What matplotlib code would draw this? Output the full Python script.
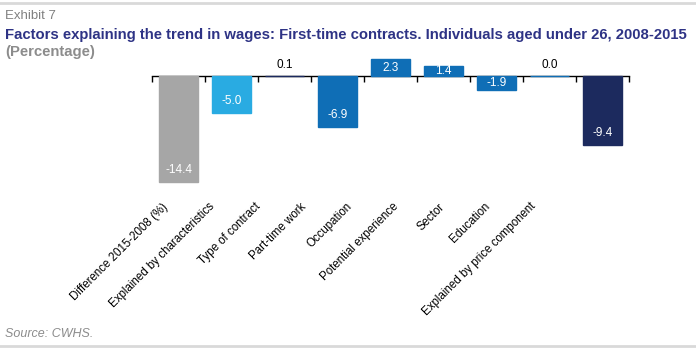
import matplotlib
matplotlib.use("Agg")
import numpy as np
from matplotlib import pyplot as plt
from matplotlib.transforms import ScaledTranslation

plt.rcParams['font.family'] = ['Liberation Sans', 'DejaVu Sans']

# data
categories = ['Difference 2015-2008 (%)', 'Explained by characteristics', 'Type of contract',
              'Part-time work', 'Occupation', 'Potential experience', 'Sector',
              'Education', 'Explained by price component']
values = [-14.4, -5.0, 0.1, -6.9, 2.3, 1.4, -1.9, 0.0, -9.4]
colors = ['#A6A6A6', '#29ABE2', '#1C2A5E', '#0F6EB6', '#0F6EB6', '#0F6EB6',
          '#0F6EB6', '#0F6EB6', '#1C2A5E']

W, H = 696, 349
fig = plt.figure(figsize=(W / 100, H / 100), dpi=100)

# header / footer ---------------------------------------------------------
fig.add_artist(plt.Line2D([0, 1], [1 - 2.5 / H, 1 - 2.5 / H], color='#D9D9D9', lw=2))
fig.add_artist(plt.Line2D([0, 1], [3 / H, 3 / H], color='#D9D9D9', lw=2))
fig.text(5 / W, 1 - 16 / H, 'Exhibit 7', color='#808080', fontsize=9.5, va='center')
fig.text(5 / W, 1 - 34.5 / H,
         'Factors explaining the trend in wages: First-time contracts. Individuals aged under 26, 2008-2015',
         color='#2E3385', fontsize=10.7, fontweight='bold', va='center')
fig.text(5 / W, 1 - 52 / H, '(Percentage)', color='#8C8C8C', fontsize=10.7,
         fontweight='bold', va='center')
fig.text(5 / W, 1 - 334 / H, 'Source: CWHS.', color='#8C8C8C', fontsize=9,
         style='italic', va='center')

# chart ------------------------------------------------------------------
ax = fig.add_axes([152 / W, 1 - 186 / H, 477 / W, 128 / H])
x = np.arange(len(values))
ax.bar(x, values, width=0.74, color=colors, edgecolor=colors, linewidth=1)
ax.set_xlim(-0.5, len(values) - 0.5)
ax.set_ylim(-15.0, 2.5)

for s in ('top', 'right', 'left'):
    ax.spines[s].set_visible(False)
ax.spines['bottom'].set_position(('data', 0))
ax.spines['bottom'].set_color('black')
ax.spines['bottom'].set_linewidth(1)
ax.spines['bottom'].set_zorder(0.5)
ax.set_yticks([])
ax.set_xticks(np.arange(len(values) + 1) - 0.5)
ax.set_xticklabels([])
ax.tick_params(axis='x', direction='out', length=4, width=1)

# value labels
for xi, v in zip(x, values):
    if abs(v) < 0.5:
        ax.annotate(f'{v:.1f}', (xi, 0), xytext=(0, 8), textcoords='offset points',
                    ha='center', va='center', fontsize=8.5, color='black')
    elif v < -3:
        ax.annotate(f'{v:.1f}', (xi, v), xytext=(0, 8.5), textcoords='offset points',
                    ha='center', va='center', fontsize=8.5, color='white')
    else:
        ax.annotate(f'{v:.1f}', (xi, v / 2), ha='center', va='center',
                    fontsize=8.5, color='white')

# category labels (rotated, slightly compressed like the original)
for i, (xi, lab) in enumerate(zip(x, categories)):
    off = ScaledTranslation(-(12 + 7 * i) / 100, -19 / 100, fig.dpi_scale_trans)
    ax.text(xi, 0, lab, transform=ax.get_xaxis_transform() + off, rotation=45,
            rotation_mode='anchor', ha='right', va='center', fontsize=8.3, color='black')

plt.savefig('out.png', dpi=100)
